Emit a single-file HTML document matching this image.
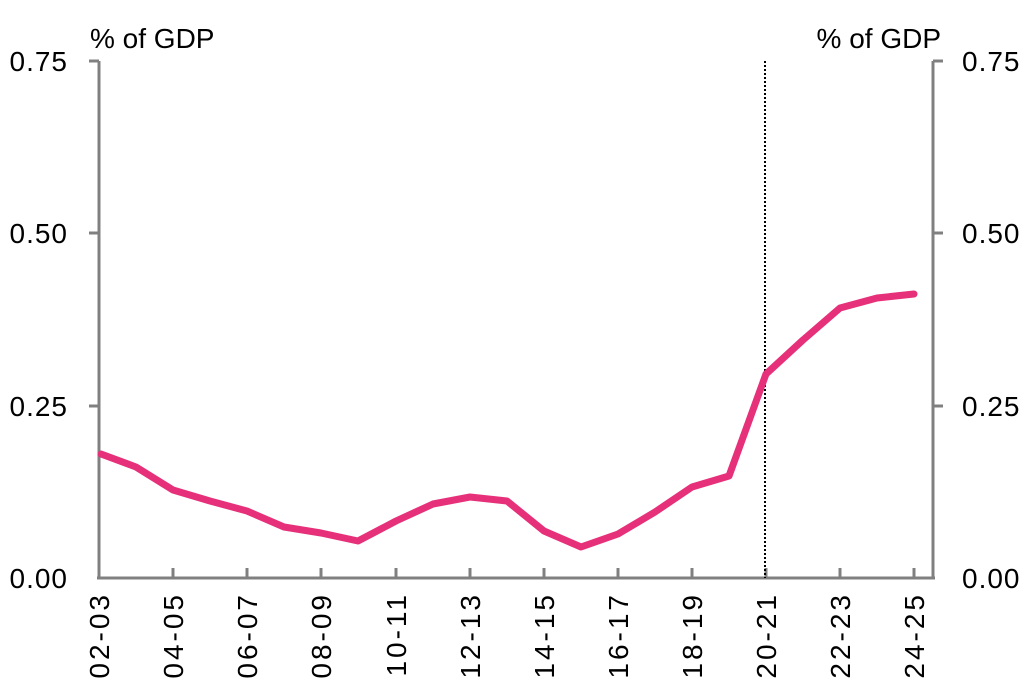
<!DOCTYPE html>
<html><head><meta charset="utf-8"><style>
html,body{margin:0;padding:0;background:#fff;}
svg{display:block;font-family:"Liberation Sans",sans-serif;}
</style></head><body>
<svg width="1031" height="687" viewBox="0 0 1031 687" xmlns="http://www.w3.org/2000/svg">
<g stroke="#808080" stroke-width="3" fill="none">
<line x1="99" y1="61" x2="99" y2="579"/>
<line x1="933" y1="61" x2="933" y2="579"/>
<line x1="97" y1="578" x2="935" y2="578"/>
<line x1="89" y1="61" x2="99" y2="61"/><line x1="89" y1="233" x2="99" y2="233"/><line x1="89" y1="406" x2="99" y2="406"/>
<line x1="933" y1="61" x2="943" y2="61"/><line x1="933" y1="233" x2="943" y2="233"/><line x1="933" y1="406" x2="943" y2="406"/>
<line x1="173" y1="578" x2="173" y2="568"/><line x1="247" y1="578" x2="247" y2="568"/><line x1="321" y1="578" x2="321" y2="568"/>
<line x1="396" y1="578" x2="396" y2="568"/><line x1="470" y1="578" x2="470" y2="568"/><line x1="544" y1="578" x2="544" y2="568"/>
<line x1="618" y1="578" x2="618" y2="568"/><line x1="692" y1="578" x2="692" y2="568"/><line x1="766" y1="578" x2="766" y2="568"/>
<line x1="840" y1="578" x2="840" y2="568"/><line x1="914" y1="578" x2="914" y2="568"/>
</g>
<line x1="765" y1="61" x2="765" y2="578" stroke="#000" stroke-width="2" stroke-dasharray="2,2"/>
<polyline fill="none" stroke="#e6307a" stroke-width="7" stroke-linejoin="round" stroke-linecap="round" points="101,454 136,467 173,490 210,501 247,511 284,527 321,533 358,541 396,521 433,504 470,497 507,501 544,531 581,547 618,534 655,512 692,487 729,476 766,374 803,340 840,308 877,298 914,294"/>
<g font-size="28" fill="#000">
<text x="68" y="71" text-anchor="end" letter-spacing="1">0.75</text>
<text x="68" y="243" text-anchor="end" letter-spacing="1">0.50</text>
<text x="68" y="416" text-anchor="end" letter-spacing="1">0.25</text>
<text x="68" y="588" text-anchor="end" letter-spacing="1">0.00</text>
<text x="962" y="71" letter-spacing="1">0.75</text>
<text x="962" y="243" letter-spacing="1">0.50</text>
<text x="962" y="416" letter-spacing="1">0.25</text>
<text x="962" y="588" letter-spacing="1">0.00</text>
<text x="90" y="48">% of GDP</text>
<text x="941" y="48" text-anchor="end">% of GDP</text>
</g>
<g font-size="28" fill="#000" text-anchor="end" letter-spacing="3">
<text transform="translate(109,592) rotate(-90)">02-03</text>
<text transform="translate(183,592) rotate(-90)">04-05</text>
<text transform="translate(257,592) rotate(-90)">06-07</text>
<text transform="translate(331,592) rotate(-90)">08-09</text>
<text transform="translate(406,592) rotate(-90)">10-11</text>
<text transform="translate(480,592) rotate(-90)">12-13</text>
<text transform="translate(554,592) rotate(-90)">14-15</text>
<text transform="translate(628,592) rotate(-90)">16-17</text>
<text transform="translate(702,592) rotate(-90)">18-19</text>
<text transform="translate(776,592) rotate(-90)">20-21</text>
<text transform="translate(850,592) rotate(-90)">22-23</text>
<text transform="translate(924,592) rotate(-90)">24-25</text>
</g>
</svg>
</body></html>
